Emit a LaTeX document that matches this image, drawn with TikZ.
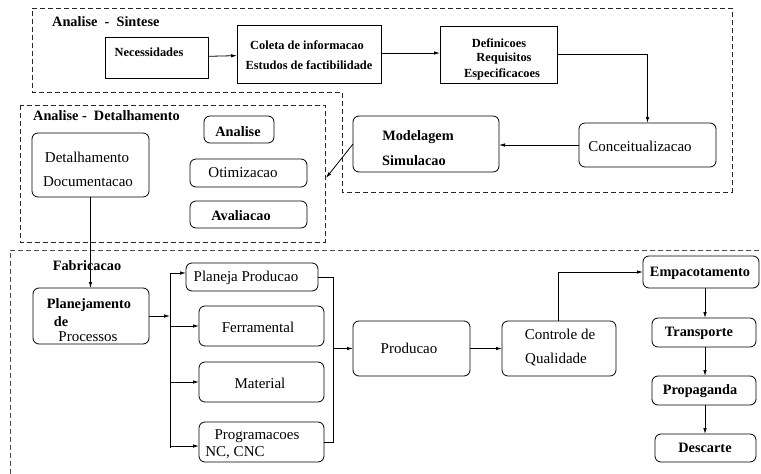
\documentclass[tikz,border=0pt]{standalone}
\usepackage{fontspec}
\setmainfont{Liberation Serif}
\usetikzlibrary{arrows.meta,fit}
\begin{document}
\begin{tikzpicture}[x=1pt,y=-1pt,
  box/.style={draw, line width=0.8pt, inner sep=0pt, outer sep=0pt},
  rbox/.style={box, rounded corners=6pt},
  arr/.style={line width=0.8pt, -{Latex[length=6pt,width=3.5pt]}},
  ln/.style={line width=0.8pt},
  bt/.style={font=\bfseries\fontsize{14.3}{16}\selectfont, inner sep=0pt},
  bs/.style={font=\bfseries\fontsize{12.4}{14}\selectfont, inner sep=0pt},
  rt/.style={font=\fontsize{15}{17}\selectfont, inner sep=0pt},
  dsh/.style={dash pattern=on 5pt off 3pt, line width=0.8pt}]
\useasboundingbox (0,0) rectangle (761,474);

% dashed regions
\draw[dsh, black!85] (32,8) -- (732,8) -- (732,192) -- (342,192) -- (342,92) -- (32,92) -- cycle;
\draw[dsh, black!85] (20,105) rectangle (325,242);
\draw[dsh, black!70] (10,474) -- (10,250) -- (761,250);

% section labels
\node[bt, anchor=west] (lsin) at (52,22) {Analise\ \ -\ \ Sintese};
\node[bt, anchor=west] (ldet) at (33,116) {Analise\ -\ \ Detalhamento};
\node[bt] (lfab) at (87,266) {Fabricacao};

% boxes
\node[box,  fit={(105,37)(208,78)}]  (nec) {};
\node[box,  fit={(237,25)(381,83)}]  (col) {};
\node[box,  fit={(440,26)(557,83)}]  (def) {};
\node[rbox, fit={(579,123)(716,167)}] (con) {};
\node[rbox, fit={(353,116)(499,172)}] (mod) {};
\node[rbox, fit={(32,133)(149,197)}]  (det) {};
\node[rbox, fit={(204,116)(274,143)}] (ana) {};
\node[rbox, fit={(190,159)(307,187)}] (oti) {};
\node[rbox, fit={(190,201)(307,228)}] (ava) {};
\node[rbox, fit={(33,288)(149,344)}]  (pla) {};
\node[rbox, fit={(186,263)(318,291)}] (ppr) {};
\node[rbox, fit={(199,306)(324,346)}] (fer) {};
\node[rbox, fit={(199,362)(324,402)}] (mat) {};
\node[rbox, fit={(199,422)(324,462)}] (prg) {};
\node[rbox, fit={(353,321)(470,376)}] (pro) {};
\node[rbox, fit={(502,321)(616,376)}] (cq) {};
\node[rbox, fit={(643,256)(759,288)}] (emp) {};
\node[rbox, fit={(652,318)(756,347)}] (tra) {};
\node[rbox, fit={(652,376)(756,405)}] (prp) {};
\node[rbox, fit={(655,434)(756,462)}] (des) {};

% texts
\node[bs] (tnec) at (149,52) {Necessidades};
\node[bs] (tcol1) at (307,45) {Coleta de informacao};
\node[bs] (tcol2) at (309,65) {Estudos de factibilidade};
\node[bs] (tdef1) at (499,43) {Definicoes};
\node[bs] (tdef2) at (504,59) {Requisitos};
\node[bs] (tdef3) at (502,74) {Especificacoes};
\node[rt] (tcon) at (640,146) {Conceitualizacao};
\node[bt] (tmod1) at (418,137) {Modelagem};
\node[bt] (tmod2) at (414,161) {Simulacao};
\node[rt] (tdet1) at (87,157) {Detalhamento};
\node[rt] (tdet2) at (88,182) {Documentacao};
\node[bt] (tana) at (238,132) {Analise};
\node[rt] (toti) at (243,173) {Otimizacao};
\node[bt] (tava) at (241,216) {Avaliacao};
\node[bt] (tpla1) at (89,305) {Planejamento};
\node[bt] (tpla2) at (61,322) {de};
\node[rt] (tpla3) at (88,337) {Processos};
\node[rt] (tppr) at (246,278) {Planeja Producao};
\node[rt] (tfer) at (258,327) {Ferramental};
\node[rt] (tmat) at (260,383) {Material};
\node[rt] (tprg1) at (257,436) {Programacoes};
\node[rt] (tprg2) at (235,453) {NC, CNC};
\node[rt] (tpro) at (409,348) {Producao};
\node[rt] (tcq1) at (560,334) {Controle de};
\node[rt] (tcq2) at (556,360) {Qualidade};
\node[bt] (temp) at (700,273) {Empacotamento};
\node[bt] (ttra) at (699,333) {Transporte};
\node[bt] (tprp) at (700,391) {Propaganda};
\node[bt] (tdes) at (705,448) {Descarte};

% coordinates
\coordinate (b1) at (170,273);
\coordinate (b2) at (170,326);
\coordinate (b3) at (170,382);
\coordinate (b4) at (170,446);
\coordinate (b5) at (170,448);
\coordinate (rb) at (333,0);
\coordinate (q1) at (558,321);
\coordinate (mtip) at (326,178);

% connectors
\draw[arr] (nec) -- (col);
\draw[arr] (col.east |- 0,53) -- (def.west |- 0,53);
\draw[arr] (def.east) -- (def.east -| con.north) -- (con.north);
\draw[arr] (con.west) -- (con.west -| mod.east);
\draw[arr] (mod.west) -- (mtip);
\draw[arr] (det.south) -- (det.south |- pla.north);
\draw[arr] (pla.east) -- (pla.east -| b1);
\draw[ln] (b1) -- (b5);
\draw[arr] (b1) -- (b1 -| ppr.west);
\draw[arr] (b2) -- (b2 -| fer.west);
\draw[arr] (b3) -- (b3 -| mat.west);
\draw[arr] (b4) -- (b4 -| prg.west);
\draw[ln] (ppr.east) -- (ppr.east -| rb) -- (prg.east -| rb) -- (prg.east);
\draw[arr] (pro.west -| rb) -- (pro.west);
\draw[arr] (pro.east) -- (pro.east -| cq.west);
\draw[arr] (q1) -- (q1 |- emp.west) -- (emp.west);
\draw[arr] (emp.south -| 705,0) -- (tra.north -| 705,0);
\draw[arr] (tra.south -| 705,0) -- (prp.north -| 705,0);
\draw[arr] (prp.south -| 705,0) -- (des.north -| 705,0);
\end{tikzpicture}
\end{document}
